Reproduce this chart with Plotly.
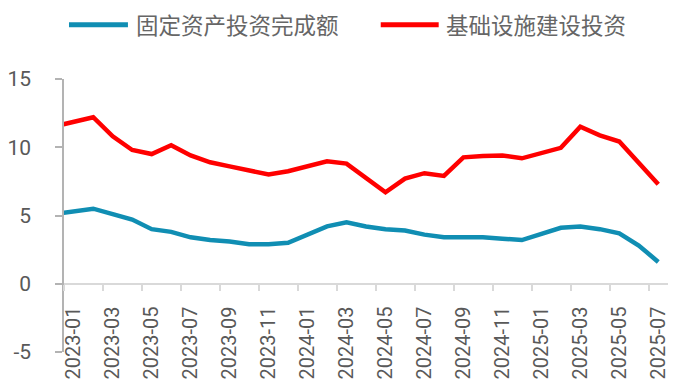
import plotly.graph_objects as go

# ---- data ----
months = ["2022-12",
          "2023-01", "2023-02", "2023-03", "2023-04", "2023-05", "2023-06",
          "2023-07", "2023-08", "2023-09", "2023-10", "2023-11", "2023-12",
          "2024-01", "2024-02", "2024-03", "2024-04", "2024-05", "2024-06",
          "2024-07", "2024-08", "2024-09", "2024-10", "2024-11", "2024-12",
          "2025-01", "2025-02", "2025-03", "2025-04", "2025-05", "2025-06",
          "2025-07"]
fai = [5.1,
       None, 5.5, 5.1, 4.7, 4.0, 3.8, 3.4, 3.2, 3.1, 2.9, 2.9, 3.0,
       None, 4.2, 4.5, 4.2, 4.0, 3.9, 3.6, 3.4, 3.4, 3.4, 3.3, 3.2,
       None, 4.1, 4.2, 4.0, 3.7, 2.8, 1.6]
infra = [11.52,
         None, 12.2, 10.8, 9.8, 9.5, 10.15, 9.4, 8.9, 8.6, 8.3, 8.0, 8.24,
         None, 8.97, 8.8, 7.8, 6.7, 7.7, 8.1, 7.9, 9.26, 9.35, 9.4, 9.19,
         None, 9.96, 11.5, 10.87, 10.42, 8.9, 7.29]
series_names = ["固定资产投资完成额", "基础设施建设投资"]
series_colors = ["#108EB3", "#FF0000"]
y_ticks = [-5, 0, 5, 10, 15]

# ---- layout constants ----
W, H = 700, 382
ML, MR, MT, MB = 64, 31.5, 79.3, 29.7
PW, PH = W - ML - MR, H - MT - MB


def fx(px):
    return (px - ML) / PW


def fy(py):
    return (H - MB - py) / PH


Y_FONT = dict(family="Roboto, Lato, sans-serif", size=21, color="#595959")
X_FONT = dict(family="Roboto, Lato, sans-serif", size=20, color="#595959")
CJK = "Noto Sans CJK SC, sans-serif"

fig = go.Figure()
for name, vals, col in zip(series_names, [fai, infra], series_colors):
    fig.add_trace(go.Scatter(
        x=months, y=vals, name=name, mode="lines", connectgaps=True,
        line=dict(color=col, width=4.5), showlegend=False,
        hoverinfo="skip"))

# y value 0 position in paper coordinates for the crossing x axis
ymin, ymax = y_ticks[0], y_ticks[-1]
zero_pos = (0 - ymin) / (ymax - ymin)

fig.update_layout(
    width=W, height=H,
    margin=dict(l=ML, r=MR, t=MT, b=MB, pad=0),
    paper_bgcolor="white", plot_bgcolor="white",
    xaxis=dict(
        type="category", categoryorder="array", categoryarray=months,
        range=[0.5, len(months) - 0.5],
        tickmode="linear", tick0=1, dtick=2,
        tickson="boundaries",
        ticks="outside", ticklen=6, tickwidth=1.5, tickcolor="#D9D9D9",
        showline=True, linecolor="#D9D9D9", linewidth=1.5,
        showgrid=False, zeroline=False,
        tickangle=-90, tickfont=X_FONT,
        anchor="free", position=zero_pos,
        ticklabelstandoff=14, automargin=False,
    ),
    yaxis=dict(
        range=[ymin, ymax], tickmode="array", tickvals=y_ticks,
        ticktext=[str(v) for v in y_ticks],
        ticks="outside", ticklen=7, tickwidth=1.5, tickcolor="#B3B3B3",
        showline=True, linecolor="#B3B3B3", linewidth=1.5,
        showgrid=False, zeroline=False,
        tickfont=Y_FONT, ticklabelstandoff=20, automargin=False,
    ),
)

# custom legend (long line swatches as in the reference)
legend_items = [(69, 128, 134), (381, 439, 444)]
for (x0, x1, xt), name, col in zip(legend_items, series_names, series_colors):
    fig.add_shape(type="line", xref="paper", yref="paper",
                  x0=fx(x0), x1=fx(x1), y0=fy(25), y1=fy(25),
                  line=dict(color=col, width=5))
    fig.add_annotation(xref="paper", yref="paper", x=fx(xt), y=fy(24),
                       xanchor="left", yanchor="middle", showarrow=False,
                       text=name,
                       font=dict(family=CJK, size=22.5, color="#666666"))

fig.write_html("out.html",
               config={"displayModeBar": False},
               post_script="document.body.style.margin='0';"
                           "document.body.style.overflow='hidden';")
